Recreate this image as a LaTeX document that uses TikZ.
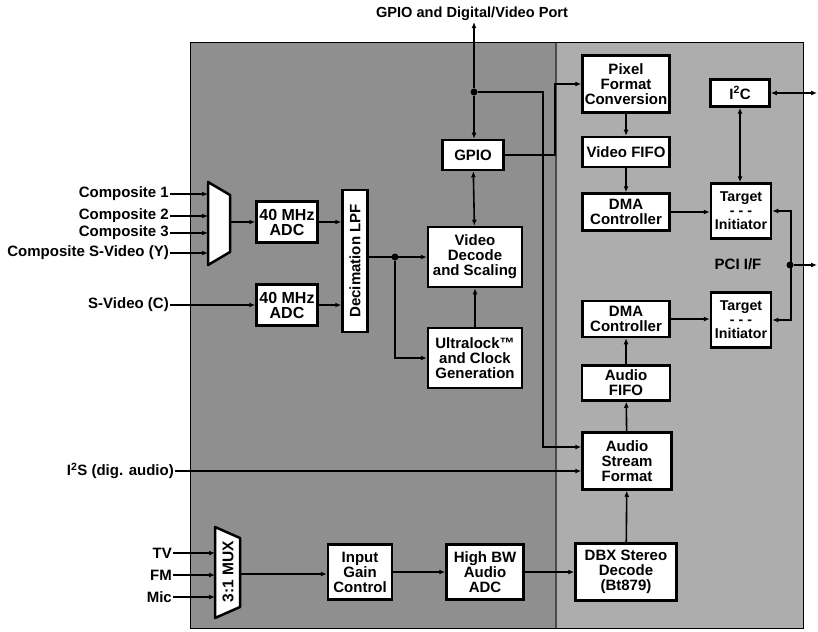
\documentclass[tikz,border=0pt]{standalone}
\usepackage{fontspec}
\setmainfont{Liberation Sans}
\usetikzlibrary{calc,positioning,arrows.meta}
\definecolor{BoardDark}{gray}{0.56}
\definecolor{BoardLight}{gray}{0.68}

\tikzset{
  blk/.style={draw,line width=2.5pt,fill=white,align=center,inner sep=1pt,
    font=\bfseries\fontsize{15}{15}\selectfont},
  pin/.style={anchor=east,inner sep=1pt,font=\bfseries\fontsize{15}{16}\selectfont},
  sig/.style={line width=1.6pt,-{Latex[length=6pt,width=5pt]}},
  bisig/.style={line width=1.6pt,{Latex[length=6pt,width=5pt]}-{Latex[length=6pt,width=5pt]}},
  jdot/.style={circle,fill,inner sep=0pt,minimum size=7pt},
  muxbox/.style={draw,line width=2.5pt,fill=white,line join=round},
}

\begin{document}
\begin{tikzpicture}[x=1pt,y=-1pt]
  \useasboundingbox (0,0) rectangle (818,631);
  % board
  \fill[BoardDark] (190,43) rectangle (556,628);
  \fill[BoardLight] (556,43) rectangle (803,628);
  \draw[line width=1pt] (190,43) rectangle (803,628);
  \draw[line width=2.5pt,black!70] (556,43) -- (556,628);
  \draw[line width=0.6pt,black!45] (234,43) -- (234,628);

  % video path
  \node[blk,minimum width=61,minimum height=41,font=\bfseries\fontsize{16}{15}\selectfont] (adc1) at (287,222) {40 MHz\\ADC};
  \node[blk,minimum width=61,minimum height=41,font=\bfseries\fontsize{16}{15}\selectfont] (adc2) at (287,305) {40 MHz\\ADC};
  \node[blk,minimum width=25,minimum height=142] (lpf) at (355,261) {\rotatebox{90}{Decimation LPF}};
  \node[blk,minimum width=94,minimum height=60] (vd) at (475,257) {Video\\Decode\\and Scaling};
  \node[blk,minimum width=94,minimum height=60] (ul) at (475,358) {Ultralock™\\and Clock\\Generation};
  \node[blk,minimum width=61,minimum height=30] (gpio) at (473,155) {GPIO};
  \node[inner sep=1pt,font=\bfseries\fontsize{14.6}{16}\selectfont] (port) at (472,14) {GPIO and Digital/Video Port};

  % video input mux
  \draw[muxbox] (208,182) -- (230,195) -- (230,252) -- (208,265) -- cycle;
  \coordinate (vmuxi) at (208,222);
  \coordinate (vmuxo) at (230,222);
  \node[pin] (c1) at (170,194) {Composite 1};
  \node[pin] (c2) at (170,216) {Composite 2};
  \node[pin] (c3) at (170,233) {Composite 3};
  \node[pin] (cy) at (170,253) {Composite S-Video (Y)};
  \node[pin] (sc) at (170,305) {S-Video (C)};
  \foreach \n in {c1,c2,c3,cy}
    \draw[sig] (\n.east) -- (\n.east -| vmuxi);
  \draw[sig] (sc.east) -- (sc.east -| adc2.west);
  \draw[sig] (vmuxo) -- (adc1.west);
  \draw[sig] (adc1.east) -- (adc1.east -| lpf.west);
  \draw[sig] (adc2.east) -- (adc2.east -| lpf.west);
  \draw[sig] (lpf.east |- vd.west) -- (vd.west);
  \node[jdot] (lj) at (395,257) {};
  \draw[sig] (lj) |- (ul.west);
  \draw[sig] (ul) -- (vd);
  \draw[bisig] (gpio) -- (vd);

  % right column
  \node[blk,minimum width=87,minimum height=57] (pfc) at (626,84) {Pixel\\Format\\Conversion};
  \node[blk,minimum width=87,minimum height=30] (vfifo) at (626,152) {Video FIFO};
  \node[blk,minimum width=87,minimum height=37] (dma1) at (626,212) {DMA\\Controller};
  \node[blk,minimum width=87,minimum height=36] (dma2) at (626,319) {DMA\\Controller};
  \node[blk,minimum width=88,minimum height=35] (afifo) at (626,383) {Audio\\FIFO};
  \node[blk,minimum width=89,minimum height=57] (asf) at (627,461) {Audio\\Stream\\Format};
  \node[blk,minimum width=59,minimum height=27] (i2c) at (740,93) {I\textsuperscript{2}C};
  \node[blk,minimum width=60,minimum height=55,font=\bfseries\fontsize{14.2}{14}\selectfont] (ti1) at (741,211) {Target\\- - -\\Initiator};
  \node[blk,minimum width=60,minimum height=55,font=\bfseries\fontsize{14.2}{14}\selectfont] (ti2) at (741,320) {Target\\- - -\\Initiator};
  \node[inner sep=1pt,font=\bfseries\fontsize{15}{16}\selectfont] (pci) at (738,264) {PCI I/F};

  % gpio bus
  \node[jdot] (gj) at (474,92) {};
  \draw[sig] (gj) -- (port.south -| gj);
  \draw[sig] (gj) -- (gj |- gpio.north);
  \draw[sig] (gpio.east) -- ++(50,0) |- (pfc.west);
  \draw[sig] (gj) -- ++(69,0) |- ($(asf.west)+(0,-14)$);

  \draw[sig] (pfc) -- (vfifo);
  \draw[sig] (vfifo) -- (dma1);
  \draw[sig] (dma1.east) -- (dma1.east -| ti1.west);
  \draw[sig] (dma2.east) -- (dma2.east -| ti2.west);
  \draw[sig] (afifo) -- (dma2);
  \draw[sig] (asf) -- (afifo);
  \draw[bisig] (i2c) -- (i2c |- ti1.north);
  \coordinate (i2cout) at (817,93);
  \draw[bisig] (i2c.east) -- (i2cout);
  \draw[bisig] (ti1.east) -- ++(19,0) |- (ti2.east);
  \node[jdot] (pj) at (790,265) {};
  \coordinate (pciout) at (817,265);
  \draw[sig] (pj) -- (pciout);

  % audio path
  \node[blk,minimum width=64,minimum height=55] (igc) at (360,572) {Input\\Gain\\Control};
  \node[blk,minimum width=77,minimum height=55] (hbw) at (485,572) {High BW\\Audio\\ADC};
  \node[blk,minimum width=101,minimum height=57] (dbx) at (626,572) {DBX Stereo\\Decode\\(Bt879)};
  \draw[muxbox] (215,527) -- (240,538) -- (240,607) -- (215,618) -- cycle;
  \node[rotate=90,inner sep=0pt,font=\bfseries\fontsize{15.5}{16}\selectfont] (amuxt) at (228,572) {3:1 MUX};
  \coordinate (amuxi) at (215,575);
  \coordinate (amuxo) at (240,574);
  \node[pin] (tv) at (173,553) {TV};
  \node[pin] (fm) at (173,575) {FM};
  \node[pin] (mic) at (173,597) {Mic};
  \foreach \n in {tv,fm,mic}
    \draw[sig] (\n.east) -- (\n.east -| amuxi);
  \draw[sig] (amuxo) -- (amuxo -| igc.west);
  \draw[sig] (igc) -- (hbw);
  \draw[sig] (hbw) -- (dbx);
  \draw[sig] (dbx) -- (asf);
  \node[pin] (i2s) at (175,471) {I\textsuperscript{2}S (dig. audio)};
  \draw[sig] (i2s.east) -- (i2s.east -| asf.west);
\end{tikzpicture}
\end{document}
